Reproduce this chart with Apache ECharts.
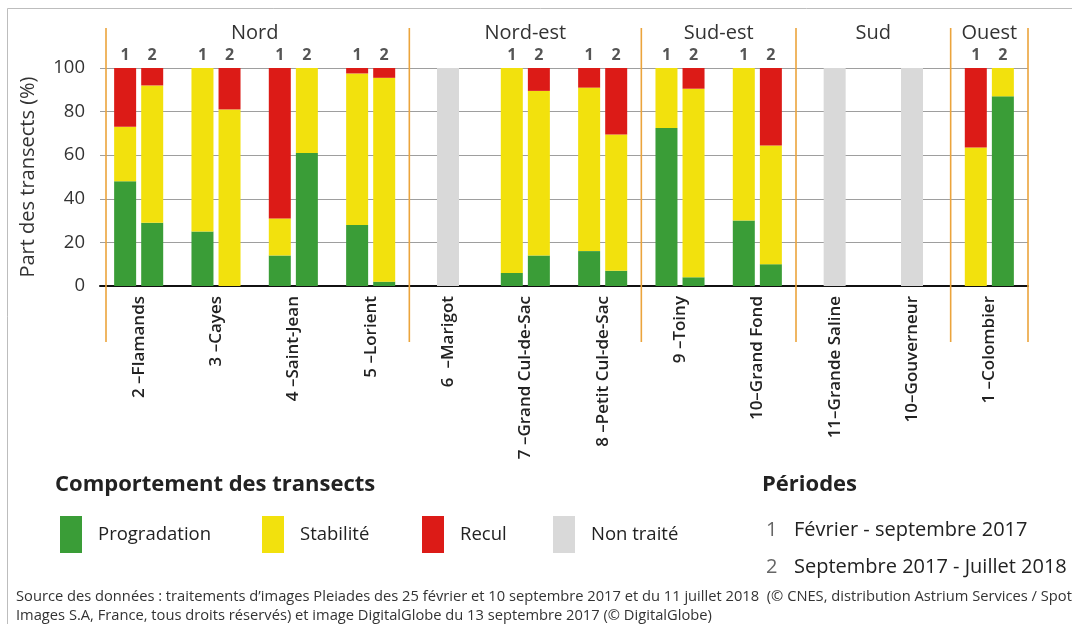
<!DOCTYPE html>
<html>
<head>
<meta charset="utf-8">
<script src="https://cdn.jsdelivr.net/npm/echarts@6/dist/echarts.min.js"></script>
<style>
  html, body { margin: 0; padding: 0; background: #ffffff; }
  #chart { width: 1072px; height: 624px; }
</style>
</head>
<body>
<div id="chart"></div>
<script>
// Sites, grouped by coastal sector
const sites = [
  '2 –Flamands', '3 –Cayes', '4 –Saint-Jean', '5 –Lorient',
  '6  –Marigot', '7 –Grand Cul-de-Sac', '8 –Petit Cul-de-Sac',
  '9 –Toiny', '10–Grand Fond',
  '11–Grande Saline', '10–Gouverneur',
  '1 –Colombier'
];
const regionNames = ['Nord', 'Nord-est', 'Sud-est', 'Sud', 'Ouest'];
const regionSizes = [4, 3, 2, 2, 1];

// Period 1 : février - septembre 2017 (% of transects)
const prog1  = [48, 25, 14, 28,   null, 6,    16,   72.5, 30,   null, null, 0];
const stab1  = [25, 75, 17, 69.5, null, 94,   75,   27.5, 70,   null, null, 63.5];
const recul1 = [27, 0,  69, 2.5,  null, 0,    9,    0,    0,    null, null, 36.5];

// Period 2 : septembre 2017 - juillet 2018 (% of transects)
const prog2  = [29, 0,  61, 2,    null, 14,   7,    4,    10,   null, null, 87];
const stab2  = [63, 81, 39, 93.5, null, 75.5, 62.5, 86.5, 54.5, null, null, 13];
const recul2 = [8,  19, 0,  4.5,  null, 10.5, 30.5, 9.5,  35.5, null, null, 0];

// Sites not processed
const untreated = [null, null, null, null, 100, null, null, null, null, 100, 100, null];

const yTicks = { min: 0, max: 100, interval: 20 };
const periodIds = ['1', '2'];
const periodLabels = ['Février - septembre 2017', 'Septembre 2017 - Juillet 2018'];
const legendNames = ['Progradation', 'Stabilité', 'Recul', 'Non traité'];
const sourceLines = [
  'Source des données : traitements d\u2019images Pleiades des 25 février et 10 septembre 2017 et du 11 juillet 2018  (© CNES, distribution Astrium Services / Spot',
  'Images S.A, France, tous droits réservés) et image DigitalGlobe du 13 septembre 2017 (© DigitalGlobe)'
];

const GREEN = '#3a9d37', YELLOW = '#f2e10d', RED = '#dc1b17', GREY = '#d9d9d9', ORANGE = '#eba43c';
const FONT = '"Open Sans", "Noto Sans", sans-serif';

// sector boundaries (in category units) and sector centres
const bounds = [0];
regionSizes.forEach(n => bounds.push(bounds[bounds.length - 1] + n));
const centres = regionNames.map((_, i) => [(bounds[i] + bounds[i + 1]) / 2, 0]);

// zero-height caps carrying the period number above each stacked bar
const cap = untreated.map(v => (v == null ? 0 : null));

function stackSeries(stack, data, name, color) {
  return {
    type: 'bar', name, stack, data, xAxisIndex: 0, yAxisIndex: 0,
    barWidth: 22, barGap: '23%',
    itemStyle: { color }, emphasis: { disabled: true }
  };
}
function capSeries(stack, id) {
  return {
    type: 'bar', name: 'cap' + id, stack, data: cap, xAxisIndex: 0, yAxisIndex: 0,
    barWidth: 22, barGap: '23%',
    itemStyle: { color: 'rgba(0,0,0,0)' },
    label: {
      show: true, position: 'top', distance: 5, formatter: id,
      fontFamily: FONT, fontSize: 16, fontWeight: 'bold', color: '#555'
    },
    emphasis: { disabled: true }
  };
}

const legendLefts = [55, 257, 417, 548];

const chart = echarts.init(document.getElementById('chart'), null, { renderer: 'canvas' });
chart.setOption({
  animation: false,
  backgroundColor: '#ffffff',
  grid: { left: 100, right: 44, top: 68, bottom: 338, containLabel: false },
  legend: legendNames.map((n, i) => ({
    data: [n], left: legendLefts[i], top: 511,
    icon: 'rect', itemWidth: 22, itemHeight: 37,
    selectedMode: false,
    textStyle: { fontFamily: FONT, fontSize: 18.5, color: '#222', padding: [0, 0, 0, 11] }
  })),
  xAxis: [
    {
      type: 'category', data: sites, gridIndex: 0,
      axisLine: { show: true, lineStyle: { color: '#111', width: 2 } },
      axisTick: { show: false },
      axisLabel: {
        interval: 0, rotate: 90, margin: 10,
        fontFamily: FONT, fontSize: 17, fontWeight: 600, color: '#222'
      },
      splitLine: { show: false }
    },
    { type: 'category', data: sites, gridIndex: 0, show: false },
    { type: 'value', min: 0, max: sites.length, gridIndex: 0, show: false }
  ],
  yAxis: {
    type: 'value', min: yTicks.min, max: yTicks.max, interval: yTicks.interval,
    name: 'Part des transects (%)', nameLocation: 'middle', nameGap: 62, nameRotate: 90,
    nameTextStyle: { fontFamily: FONT, fontSize: 20, color: '#333' },
    axisLine: { show: false }, axisTick: { show: false },
    axisLabel: { fontFamily: FONT, fontSize: 18.5, color: '#333', margin: 15 },
    splitLine: { lineStyle: { color: '#9e9e9e', width: 1 } }
  },
  series: [
    stackSeries('p1', prog1, 'Progradation', GREEN),
    stackSeries('p1', stab1, 'Stabilité', YELLOW),
    stackSeries('p1', recul1, 'Recul', RED),
    capSeries('p1', periodIds[0]),
    stackSeries('p2', prog2, 'Progradation', GREEN),
    stackSeries('p2', stab2, 'Stabilité', YELLOW),
    stackSeries('p2', recul2, 'Recul', RED),
    capSeries('p2', periodIds[1]),
    {
      type: 'bar', name: 'Non traité', data: untreated, xAxisIndex: 1, yAxisIndex: 0,
      barWidth: 22, itemStyle: { color: GREY }, emphasis: { disabled: true }
    },
    {
      // sector separators
      type: 'custom', name: 'separators', xAxisIndex: 2, yAxisIndex: 0, clip: false,
      data: bounds.map(b => [b, 0]), encode: { x: 0, y: 1 },
      renderItem: (params, api) => {
        let x = api.coord([api.value(0), 0])[0];
        if (params.dataIndex === 0) x += 6;
        return {
          type: 'line',
          shape: { x1: x, y1: 28, x2: x, y2: 342 },
          style: { stroke: ORANGE, lineWidth: 1.6 }
        };
      },
      silent: true, z: 3
    },
    {
      // sector names
      type: 'custom', name: 'sectors', xAxisIndex: 2, yAxisIndex: 0, clip: false,
      data: centres, encode: { x: 0, y: 1 },
      renderItem: (params, api) => {
        const x = api.coord([api.value(0), 0])[0];
        return {
          type: 'text', x: x, y: 33,
          style: {
            text: regionNames[params.dataIndex], align: 'center', verticalAlign: 'middle',
            fontFamily: FONT, fontSize: 20, fill: '#333'
          }
        };
      },
      silent: true, z: 3
    }
  ],
  graphic: [
    {
      type: 'rect', left: 5, top: 6, silent: true,
      shape: { width: 1100, height: 700 },
      style: { fill: 'none', stroke: '#bdbdbd', lineWidth: 1 }
    },
    {
      type: 'text', left: 55, top: 474,
      style: { text: 'Comportement des transects', fontFamily: FONT, fontSize: 22, fontWeight: 'bold', fill: '#222' }
    },
    {
      type: 'text', left: 762, top: 474,
      style: { text: 'Périodes', fontFamily: FONT, fontSize: 22, fontWeight: 'bold', fill: '#222' }
    },
    ...periodLabels.flatMap((t, i) => [
      {
        type: 'text', left: 766, top: 520 + i * 37,
        style: { text: periodIds[i], fontFamily: FONT, fontSize: 20, fill: '#666' }
      },
      {
        type: 'text', left: 794, top: 520 + i * 37,
        style: { text: t, fontFamily: FONT, fontSize: 20, fill: '#222' }
      }
    ]),
    ...sourceLines.map((t, i) => ({
      type: 'text', left: 16, top: 589 + i * 19,
      style: { text: t, fontFamily: FONT, fontSize: 14.7, fill: '#333' }
    }))
  ]
});
</script>
</body>
</html>
